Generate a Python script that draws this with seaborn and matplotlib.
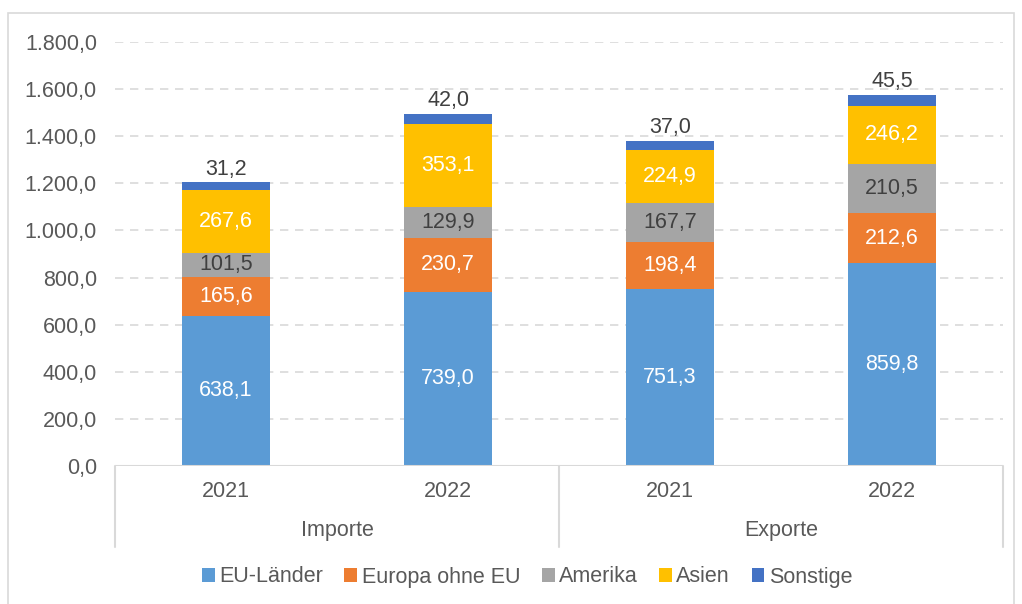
import matplotlib
matplotlib.use("Agg")
import matplotlib.pyplot as plt
import matplotlib.transforms as mtransforms
from matplotlib.patches import Patch, Rectangle
import seaborn as sns
import pandas as pd
import numpy as np

# ---- data ----
groups = ["Importe", "Importe", "Exporte", "Exporte"]
years = ["2021", "2022", "2021", "2022"]
series_names = ["EU-Länder", "Europa ohne EU", "Amerika", "Asien", "Sonstige"]
eu_laender = [638.1, 739.0, 751.3, 859.8]
europa_ohne_eu = [165.6, 230.7, 198.4, 212.6]
amerika = [101.5, 129.9, 167.7, 210.5]
asien = [267.6, 353.1, 224.9, 246.2]
sonstige = [31.2, 42.0, 37.0, 45.5]
y_ticks = [0, 200, 400, 600, 800, 1000, 1200, 1400, 1600, 1800]

colors = ["#5B9BD5", "#ED7D31", "#A5A5A5", "#FFC000", "#4472C4"]
label_colors = ["white", "white", "#404040", "white", None]

sns.set_theme(style="white")
plt.rcParams["font.family"] = ["Liberation Sans", "DejaVu Sans"]
FS = 15.5

values = [eu_laender, europa_ohne_eu, amerika, asien, sonstige]
cats = [f"{g} {y}" for g, y in zip(groups, years)]
cum = np.cumsum(np.array(values), axis=0)

fig = plt.figure(figsize=(10.22, 6.04), dpi=100)
W, H = 1022, 604
ax = fig.add_axes([115 / W, (H - 466) / H, (1003 - 115) / W, (466 - 42) / H])

# draw cumulative bars from top series down so lower ones overlay
for i in range(len(series_names) - 1, -1, -1):
    df = pd.DataFrame({"cat": cats, "val": cum[i]})
    sns.barplot(data=df, x="cat", y="val", order=cats, color=colors[i],
                width=0.4, saturation=1, ax=ax, edgecolor="none", linewidth=0)

ax.set_ylim(0, 1800)
ax.set_xlim(-0.5, 3.5)
ax.set_yticks(y_ticks)
ax.set_yticklabels([f"{v:,.1f}".replace(",", "X").replace(".", ",").replace("X", ".") for v in y_ticks],
                   fontsize=FS, color="#595959")
ax.tick_params(axis="y", length=0, pad=13)
ax.set_xticks([])
ax.set_xlabel("")
ax.set_ylabel("")
for s in ax.spines.values():
    s.set_visible(False)
ax.set_axisbelow(True)
ax.yaxis.grid(True, color="#d9d9d9", linestyle=(0, (5, 4)), linewidth=1.2)
ax.axhline(0, color="#d9d9d9", linewidth=1.5, zorder=5)

def fmt(v):
    return f"{v:.1f}".replace(".", ",")

# labels
for i, name in enumerate(series_names):
    for j in range(len(cats)):
        v = values[i][j]
        if i < len(series_names) - 1:
            y = cum[i][j] - v / 2
            ax.text(j, y, fmt(v), ha="center", va="center", fontsize=FS,
                    color=label_colors[i], zorder=6)
        else:
            ax.annotate(fmt(v), (j, cum[i][j]), xytext=(0, 2), textcoords="offset points",
                        ha="center", va="bottom", fontsize=FS, color="#404040")

# multi-level x axis
trans = mtransforms.blended_transform_factory(ax.transData, ax.transAxes)
for j, yr in enumerate(years):
    ax.text(j, -0.06, yr, transform=trans, ha="center", va="center", fontsize=FS, color="#595959")
group_names = ["Importe", "Exporte"]
for k, g in enumerate(group_names):
    ax.text(2 * k + 0.5, -0.153, g, transform=trans, ha="center", va="center", fontsize=FS, color="#595959")
for xs in [-0.5, 1.5, 3.5]:
    ax.plot([xs, xs], [0, -0.19], transform=trans, color="#d9d9d9", linewidth=1.5, clip_on=False)

# legend
handles = [Patch(facecolor=c, edgecolor="none") for c in colors]
fig.legend(handles, series_names, loc="center", bbox_to_anchor=(527 / W, (H - 577) / H),
           ncol=5, frameon=False, fontsize=FS, handlelength=0.6, handleheight=0.6,
           handletextpad=0.2, columnspacing=1.0, labelcolor="#595959")

# outer frame
fig.patches.append(Rectangle((8 / W, -0.01), (1014 - 8) / W, (H - 13) / H + 0.01,
                             transform=fig.transFigure, fill=False, edgecolor="#d9d9d9", linewidth=1.2))

fig.savefig("out.png", dpi=100)
